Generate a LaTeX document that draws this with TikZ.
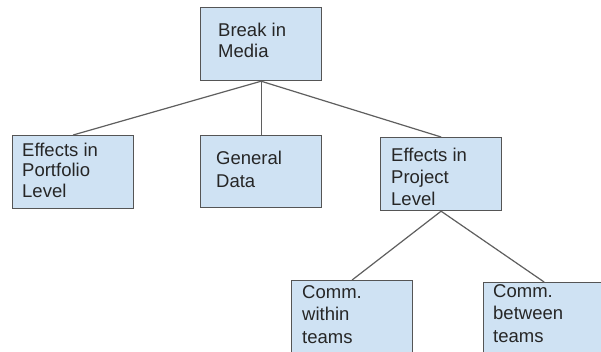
\documentclass[tikz,border=0pt]{standalone}
\usepackage{fontspec}
\setmainfont{Liberation Sans}
\definecolor{boxfill}{HTML}{CFE2F3}
\definecolor{boxline}{HTML}{555555}
\definecolor{conline}{HTML}{5F5F5F}
\begin{document}
\begin{tikzpicture}[x=1pt,y=-1pt,
  box/.style={draw=boxline,fill=boxfill,line width=1.2pt,anchor=north west,minimum width=121pt,minimum height=73pt,inner sep=0pt},
  txt/.style={anchor=base west,align=left,inner sep=0pt,font=\fontsize{18.5}{21}\selectfont,text=black!85},
  con/.style={draw=conline,line width=1.2pt}]
\useasboundingbox (0,0) rectangle (601,351);
\clip (0,0) rectangle (601,351);
\fill[white] (0,0) rectangle (601,351);
\node[box] (bim) at (200,7) {};
\node[box] (port) at (12,135) {};
\node[box,minimum height=72pt] (gen) at (200,135) {};
\node[box] (proj) at (380,137) {};
\node[box,minimum height=90pt] (cwi) at (291,280) {};
\node[box,minimum height=90pt] (cbe) at (483,282) {};
\draw[con] (bim.south) -- (port.north);
\draw[con] (bim.south) -- (gen.north);
\draw[con] (bim.south) -- (proj.north);
\draw[con] (proj.south) -- (cwi.north);
\draw[con] (proj.south) -- (cbe.north);
\node[txt] (tbim) at (218,57) {Break in\\Media};
\node[txt,font=\fontsize{18.5}{20.5}\selectfont] (tport) at (22,197) {Effects in\\Portfolio\\Level};
\node[txt,font=\fontsize{18.5}{23}\selectfont] (tgen) at (216,187) {General\\Data};
\node[txt,font=\fontsize{18.5}{22}\selectfont] (tproj) at (391,205) {Effects in\\Project\\Level};
\node[txt,font=\fontsize{18.5}{22.5}\selectfont] (tcwi) at (302,343) {Comm.\\within\\teams};
\node[txt,font=\fontsize{18.5}{22.5}\selectfont] (tcbe) at (493,342) {Comm.\\between\\teams};
\end{tikzpicture}
\end{document}
